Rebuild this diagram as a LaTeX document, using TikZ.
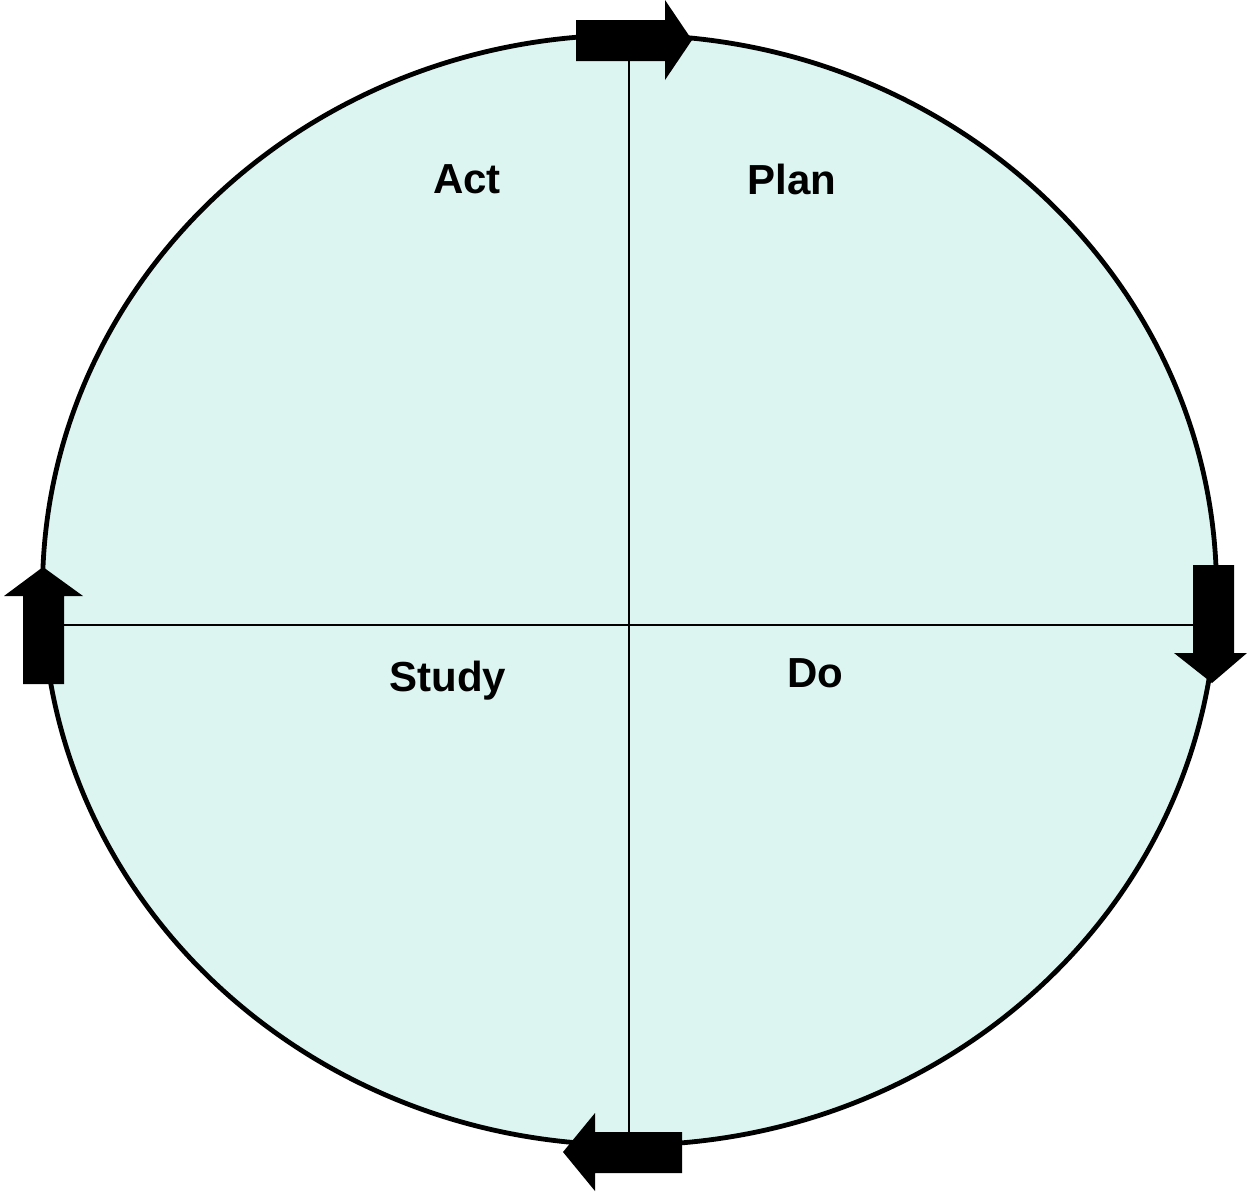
\documentclass[tikz,border=0pt]{standalone}
\usepackage{fontspec}
\setmainfont{Liberation Sans}
\usepackage{xcolor}
\definecolor{cyclefill}{HTML}{DCF5F1}
\usepackage{tikz}
\usetikzlibrary{positioning}
\tikzset{
  every picture/.style={line join=miter},
  rim/.style={draw=black, line width=2.4pt, fill=cyclefill},
  divider/.style={black, line width=0.7pt},
  phase/.style={font=\fontsize{21}{25}\selectfont\bfseries, text=black, inner sep=0pt},
  blockarrow/.style={fill=black},
}
\begin{document}
\begin{tikzpicture}[x=0.5pt, y=-0.5pt]
\useasboundingbox (0,0) rectangle (1247,1191);
% the cycle
\path[rim] (629.5,590) ellipse [x radius=587, y radius=555];
\coordinate (top) at (629,58);
\coordinate (bottom) at (629,1132);
\coordinate (left) at (64,625);
\coordinate (right) at (1193,625);
\draw[divider] (top) -- (bottom);
\draw[divider] (left) -- (right);
% quadrant labels
\node[phase] (act) at (467,179) {Act};
\node[phase] (plan) at (792,179) {Plan};
\node[phase] (study) at (448,681) {Study};
\node[phase] (do) at (815,673) {Do};
% direction arrows
\fill[blockarrow] (576,20) -- (665,20) -- (665,0) -- (692,40) -- (665,80) -- (665,61) -- (576,61) -- cycle;
\fill[blockarrow] (1193,565) -- (1234,565) -- (1234,653) -- (1247,653) -- (1212,683) -- (1174,653) -- (1193,653) -- cycle;
\fill[blockarrow] (682,1132) -- (682,1173) -- (595,1173) -- (595,1191) -- (563,1152) -- (595,1113) -- (595,1132) -- cycle;
\fill[blockarrow] (23,684) -- (23,596) -- (4,596) -- (43,567) -- (83,596) -- (64,596) -- (64,684) -- cycle;
\end{tikzpicture}
\end{document}
